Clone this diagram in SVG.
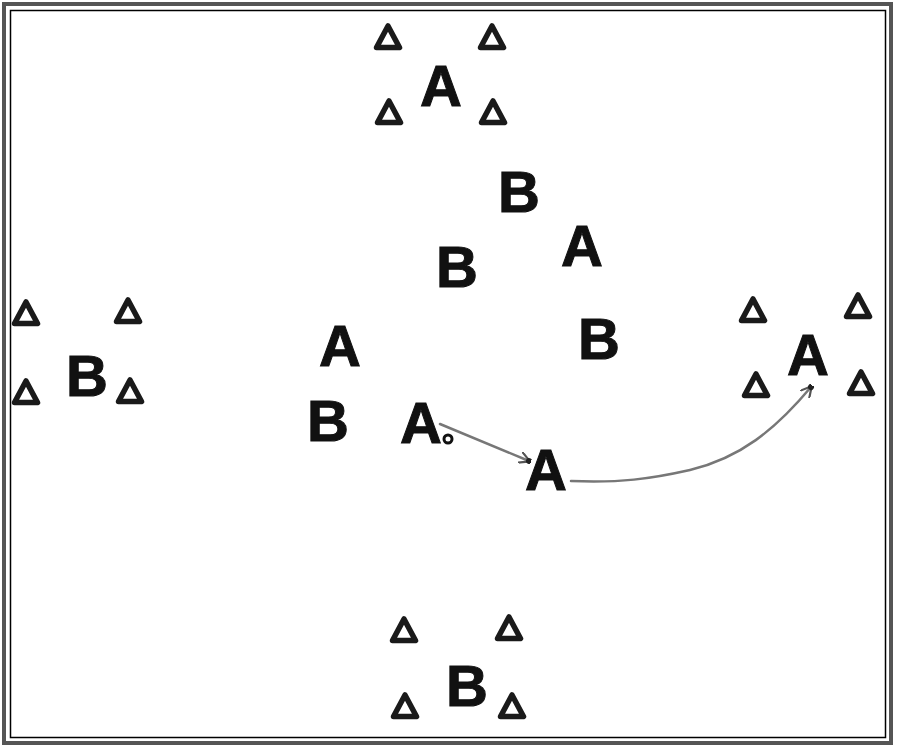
<svg xmlns="http://www.w3.org/2000/svg" width="900" height="750" viewBox="0 0 900 750">
<style>
.cone{fill:#fff;stroke:#1a1a1a;stroke-width:5.5;stroke-linejoin:round}
.lbl{font-family:"Liberation Sans",Arial,sans-serif;font-weight:bold;font-size:58px;fill:#111;text-anchor:middle;stroke:#111;stroke-width:1}
.arr{fill:none;stroke:#777;stroke-width:2.5;stroke-linecap:round}
</style>
<defs>
<symbol id="c" viewBox="-15 -15 30 30" overflow="visible"><polygon class="cone" points="0,-12 11.5,9.5 -11.5,9.5"/></symbol>
<marker id="ah" viewBox="0 0 12 12" refX="10" refY="6" markerWidth="12" markerHeight="12" markerUnits="userSpaceOnUse" orient="auto"><path d="M0,0 L11,6 L0,12" fill="none" stroke="#555" stroke-width="2.2" stroke-linejoin="round"/><circle cx="10" cy="6" r="3" fill="#222"/></marker>
</defs>
<rect x="0" y="0" width="900" height="750" fill="#fff"/>
<rect id="outer-border" x="4" y="4" width="887" height="739" fill="none" stroke="#555" stroke-width="4"/>
<rect id="inner-border" x="10.5" y="10.5" width="875" height="727" fill="none" stroke="#000" stroke-width="1.5"/>
<g id="cones">
<use href="#c" x="373" y="23" width="30" height="30"/>
<use href="#c" x="477" y="23" width="30" height="30"/>
<use href="#c" x="374" y="98" width="30" height="30"/>
<use href="#c" x="478" y="98" width="30" height="30"/>
<use href="#c" x="11" y="299" width="30" height="30"/>
<use href="#c" x="113" y="297" width="30" height="30"/>
<use href="#c" x="11" y="378" width="30" height="30"/>
<use href="#c" x="115" y="377" width="30" height="30"/>
<use href="#c" x="738" y="296" width="30" height="30"/>
<use href="#c" x="843" y="292" width="30" height="30"/>
<use href="#c" x="741" y="371" width="30" height="30"/>
<use href="#c" x="846" y="369" width="30" height="30"/>
<use href="#c" x="389" y="616" width="30" height="30"/>
<use href="#c" x="494" y="614" width="30" height="30"/>
<use href="#c" x="390" y="692" width="30" height="30"/>
<use href="#c" x="497" y="692" width="30" height="30"/>
</g>
<g id="connectors">
<line class="arr" x1="440" y1="424" x2="529" y2="461" marker-end="url(#ah)"/>
<path class="arr" d="M571,481 C620,483 650,479 690,470 C740,458 775,430 811,387" marker-end="url(#ah)"/>
</g>
<g id="players">
<text id="a1" class="lbl" x="441" y="106">A</text>
<text id="b1" class="lbl" x="519" y="212">B</text>
<text id="a2" class="lbl" x="582" y="266">A</text>
<text id="b2" class="lbl" x="457" y="287">B</text>
<text id="a3" class="lbl" x="340" y="366">A</text>
<text id="b3" class="lbl" x="599" y="359">B</text>
<text id="b4" class="lbl" x="87" y="396">B</text>
<text id="b5" class="lbl" x="328" y="441">B</text>
<g id="a4"><text class="lbl" x="421" y="443">A</text><circle cx="448" cy="439" r="4" fill="#fff" stroke="#111" stroke-width="3"/></g>
<text id="a5" class="lbl" x="546" y="490">A</text>
<text id="a6" class="lbl" x="808" y="375">A</text>
<text id="b6" class="lbl" x="467" y="706">B</text>
</g>
</svg>
